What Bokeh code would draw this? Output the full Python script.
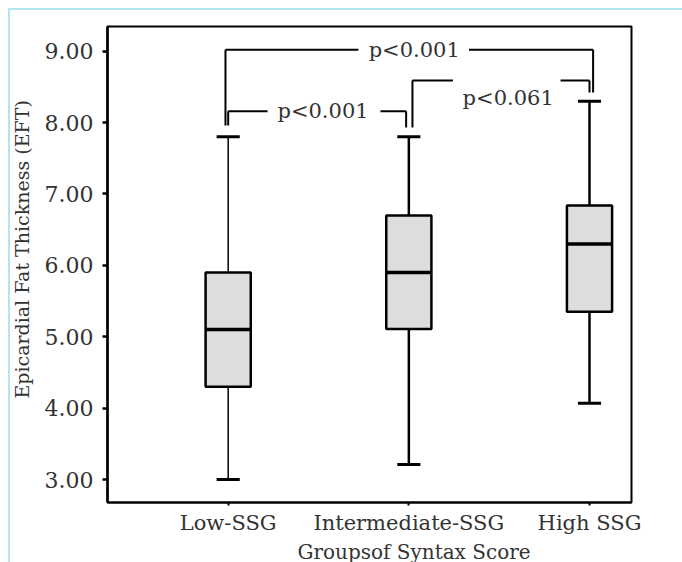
from bokeh.plotting import figure
from bokeh.models import Range1d, FixedTicker, NumeralTickFormatter, ColumnDataSource
from bokeh.core.properties import value
from bokeh.embed import file_html
from bokeh.resources import INLINE

# ---- data ----
groups = ["Low-SSG", "Intermediate-SSG", "High SSG"]
group_pos = [1, 2, 3]
lower_whisker = [3.00, 3.21, 4.07]
q1 = [4.30, 5.11, 5.35]
median = [5.10, 5.90, 6.30]
q3 = [5.90, 6.70, 6.84]
upper_whisker = [7.80, 7.80, 8.30]
y_ticks = [3, 4, 5, 6, 7, 8, 9]
x_title = "Groupsof Syntax Score"
y_title = "Epicardial Fat Thickness (EFT)"

bracket_labels = ["p<0.001", "p<0.001", "p<0.061"]
bracket_x0 = [1.00, 0.985, 2.02]
bracket_x1 = [1.985, 3.02, 3.00]
bracket_height = [8.16, 9.02, 8.59]
bracket_left_drop = [7.96, 7.96, 7.93]
bracket_right_drop = [7.93, 8.42, 8.42]
gap_x0 = [1.218, 1.721, 2.244]
gap_x1 = [1.843, 2.333, 2.84]
label_x = [1.525, 2.03, 2.55]
label_y = [8.16, 9.02, 8.34]

# ---- styles ----
FONT = value("DejaVu Serif")
TXT = "#333333"
box_w = 0.25
cap_w = 0.128
whisker_widths = [1.5, 2.5, 2.5]
CYAN = "#b2e5ee"
NBSP = "\u00a0"

page_border = {
    "background-color": "white",
    "background-image": f"linear-gradient({CYAN}, {CYAN}), linear-gradient({CYAN}, {CYAN})",
    "background-size": "2px 554px, 674px 2px",
    "background-position": "8px 8px, 8px 8px",
    "background-repeat": "no-repeat",
}

p = figure(frame_width=524, frame_height=476,
           x_range=Range1d(0.332, 3.2325), y_range=Range1d(2.678, 9.346),
           toolbar_location=None, output_backend="svg",
           min_border_left=107, min_border_top=26, min_border_right=51, min_border_bottom=60,
           styles=page_border)
p.grid.visible = False
p.outline_line_color = "black"
p.outline_line_width = 2
p.background_fill_color = "white"
p.border_fill_alpha = 0

src = ColumnDataSource(dict(
    x=group_pos, lo=lower_whisker, q1=q1, med=median, q3=q3, hi=upper_whisker,
    xl=[g - box_w / 2 for g in group_pos], xr=[g + box_w / 2 for g in group_pos],
    cl=[g - cap_w / 2 for g in group_pos], cr=[g + cap_w / 2 for g in group_pos],
    ww=whisker_widths,
))

# whiskers
p.segment(x0="x", y0="q3", x1="x", y1="hi", source=src, line_color="black", line_width="ww")
p.segment(x0="x", y0="q1", x1="x", y1="lo", source=src, line_color="black", line_width="ww")
p.segment(x0="cl", y0="hi", x1="cr", y1="hi", source=src, line_color="black", line_width=3)
p.segment(x0="cl", y0="lo", x1="cr", y1="lo", source=src, line_color="black", line_width=3)
# boxes
p.vbar(x="x", bottom="q1", top="q3", width=box_w, source=src,
       fill_color="#dddddd", line_color="black", line_width=2.5)
p.segment(x0="xl", y0="med", x1="xr", y1="med", source=src, line_color="black", line_width=3.5)

# significance brackets
bsrc = ColumnDataSource(dict(
    x0=bracket_x0, x1=bracket_x1, h=bracket_height, ld=bracket_left_drop, rd=bracket_right_drop,
    g0=gap_x0, g1=gap_x1, lx=label_x, ly=label_y, t=bracket_labels,
))
p.segment(x0="x0", y0="h", x1="g0", y1="h", source=bsrc, line_color="black", line_width=2)
p.segment(x0="g1", y0="h", x1="x1", y1="h", source=bsrc, line_color="black", line_width=2)
p.segment(x0="x0", y0="h", x1="x0", y1="ld", source=bsrc, line_color="black", line_width=2)
p.segment(x0="x1", y0="h", x1="x1", y1="rd", source=bsrc, line_color="black", line_width=2)
p.text(x="lx", y="ly", text="t", source=bsrc, text_align="center", text_baseline="middle",
       text_font=FONT, text_font_size="21px", text_color=TXT)

# axes
p.xaxis.ticker = FixedTicker(ticks=group_pos)
p.xaxis.major_label_overrides = {g: n for g, n in zip(group_pos, groups)}
p.xaxis.axis_label = NBSP * 14 + x_title   # centred a little right of the frame, as in the reference
p.yaxis.ticker = FixedTicker(ticks=y_ticks)
p.yaxis.formatter = NumeralTickFormatter(format="0.00")
p.yaxis.axis_label = NBSP * 5 + y_title

for ax in (p.xaxis[0], p.yaxis[0]):
    ax.axis_line_color = "black"
    ax.major_tick_line_color = "black"
    ax.minor_tick_line_color = None
    ax.major_tick_in = 0
    ax.major_label_text_font = "DejaVu Serif"
    ax.major_label_text_color = TXT
    ax.axis_label_text_font = "DejaVu Serif"
    ax.axis_label_text_font_style = "normal"
    ax.axis_label_text_color = TXT

p.xaxis.axis_line_width = 2
p.xaxis.major_tick_out = 3
p.xaxis.major_tick_line_width = 2
p.xaxis.major_label_standoff = 5
p.xaxis.major_label_text_font_size = "21px"
p.xaxis.axis_label_text_font_size = "20px"
p.xaxis.axis_label_standoff = 2

p.yaxis.axis_line_width = 2.5
p.yaxis.major_tick_out = 5
p.yaxis.major_tick_line_width = 2.5
p.yaxis.major_label_standoff = 9
p.yaxis.major_label_text_font_size = "22px"
p.yaxis.axis_label_text_font_size = "19px"
p.yaxis.axis_label_standoff = 9

open("out.html", "w").write(file_html(p, INLINE))
